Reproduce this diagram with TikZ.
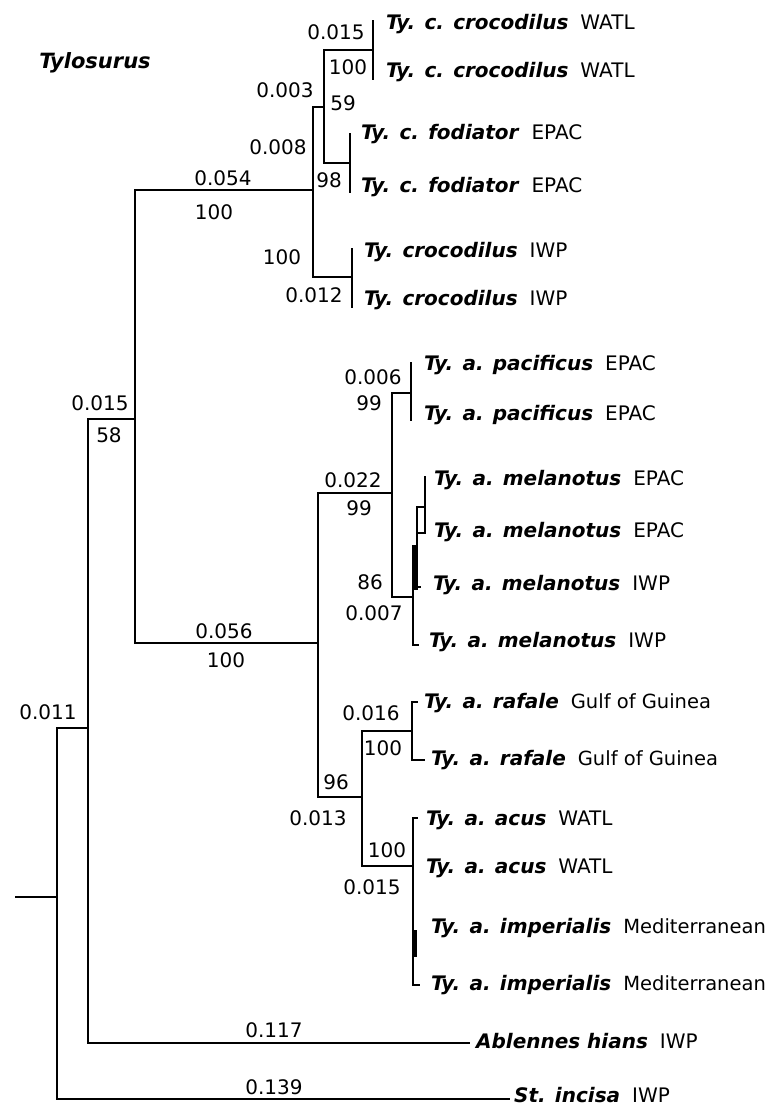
\documentclass[tikz,border=0pt]{standalone}
\usepackage{fontspec}
\setmainfont{DejaVu Sans}
\usepackage{tikz}

\newcommand{\taxon}[2]{\textbf{\textit{#1}}\hspace{0.6em}#2}
\newcommand{\reg}[1]{{\fontsize{19.5}{22}\selectfont #1}}

\begin{document}
\begin{tikzpicture}[x=1pt, y=-1pt, line width=2.2pt]
        \tikzstyle{every node}=[font=\fontsize{20}{24}\selectfont, inner sep=0pt]
        \tikzstyle{tip}=[anchor=base west]
        \useasboundingbox (0,0) rectangle (771,1110);
        % internal nodes
        \coordinate (r0) at (15,897);
        \coordinate (r) at (57,897);
        \coordinate (n1) at (88,728);
        \coordinate (ty) at (135,419);
        \coordinate (cr) at (313,190);
        \coordinate (cr1) at (324,107);
        \coordinate (cr11) at (373,50);
        \coordinate (cr12) at (350,163);
        \coordinate (cr2) at (352,277);
        \coordinate (ac) at (318,643);
        \coordinate (ac1) at (392,493);
        \coordinate (pa) at (411,393);
        \coordinate (me) at (413,597);
        \coordinate (ac2) at (362,797);
        \coordinate (ra) at (412,731);
        \coordinate (acu) at (413,866);
        % tips
        \coordinate (t1) at (373,20);
        \coordinate (t2) at (373,80);
        \coordinate (t3) at (350,133);
        \coordinate (t4) at (350,193);
        \coordinate (t5) at (352,248);
        \coordinate (t6) at (352,308);
        \coordinate (t7) at (411,362);
        \coordinate (t8) at (411,421);
        \coordinate (t9) at (425,476);
        \coordinate (mb1) at (417,507);
        \coordinate (mb2) at (425,533);
        \coordinate (m0) at (413,545);
        \coordinate (t11) at (421,587);
        \coordinate (t12) at (419,645);
        \coordinate (t13) at (418,702);
        \coordinate (t14) at (425,760);
        \coordinate (t15) at (418,818);
        \coordinate (t18) at (420,985);
        \coordinate (ab) at (470,1043);
        \coordinate (st) at (510,1099);
        % branches
        \draw (r0) -- (r);
        \draw (r) |- (n1); \draw (r) |- (st);
        \draw (n1) |- (ty); \draw (n1) |- (ab);
        \draw (ty) |- (cr); \draw (ty) |- (ac);
        \draw (cr) |- (cr1); \draw (cr) |- (cr2);
        \draw (cr1) |- (cr11); \draw (cr1) |- (cr12);
        \draw (cr11) |- (t1); \draw (cr11) |- (t2);
        \draw (cr12) |- (t3); \draw (cr12) |- (t4);
        \draw (cr2) |- (t5); \draw (cr2) |- (t6);
        \draw (ac) |- (ac1); \draw (ac) |- (ac2);
        \draw (ac1) |- (pa); \draw (ac1) |- (me);
        \draw (pa) |- (t7); \draw (pa) |- (t8);
        \draw (me) -- (m0); \draw (me) |- (t12);
        \fill (m0) rectangle ++(5,45);
        \draw[line width=1.4pt] (m0) ++(5,42) -- (t11);
        \draw[line width=1.2pt] (mb1) rectangle (mb2);
        \draw[line width=1.2pt] (mb1) ++(0,26) -- ++(0,12);
        \draw (t9) -- (t9 |- mb1);
        \draw (ac2) |- (ra); \draw (ac2) |- (acu);
        \draw (ra) |- (t13); \draw (ra) |- (t14);
        \draw (acu) |- (t15); \draw (acu) |- (t18);
        \fill (acu) ++(0,64) rectangle ++(4,27);
        % taxa
        \node [font=\fontsize{21}{24}\selectfont\bfseries\itshape] (gen) at (95,63) {Tylosurus};
        \node [tip] (l1) at (385,30) {\taxon{Ty. c. crocodilus}{WATL}};
        \node [tip] (l2) at (385,78) {\taxon{Ty. c. crocodilus}{WATL}};
        \node [tip] (l3) at (360,140) {\taxon{Ty. c. fodiator}{EPAC}};
        \node [tip] (l4) at (360,193) {\taxon{Ty. c. fodiator}{EPAC}};
        \node [tip] (l5) at (363,257) {\taxon{Ty. crocodilus}{IWP}};
        \node [tip] (l6) at (363,305) {\taxon{Ty. crocodilus}{IWP}};
        \node [tip] (l7) at (423,370) {\taxon{Ty. a. pacificus}{EPAC}};
        \node [tip] (l8) at (423,420) {\taxon{Ty. a. pacificus}{EPAC}};
        \node [tip] (l9) at (433,485) {\taxon{Ty. a. melanotus}{EPAC}};
        \node [tip] (l10) at (433,537) {\taxon{Ty. a. melanotus}{EPAC}};
        \node [tip] (l11) at (432,590) {\taxon{Ty. a. melanotus}{IWP}};
        \node [tip] (l12) at (428,647) {\taxon{Ty. a. melanotus}{IWP}};
        \node [tip] (l13) at (423,708) {\taxon{Ty. a. rafale}{\reg{Gulf of Guinea}}};
        \node [tip] (l14) at (430,765) {\taxon{Ty. a. rafale}{\reg{Gulf of Guinea}}};
        \node [tip] (l15) at (425,825) {\taxon{Ty. a. acus}{WATL}};
        \node [tip] (l16) at (425,873) {\taxon{Ty. a. acus}{WATL}};
        \node [tip] (l17) at (430,933) {\taxon{Ty. a. imperialis}{\reg{Mediterranean}}};
        \node [tip] (l18) at (430,990) {\taxon{Ty. a. imperialis}{\reg{Mediterranean}}};
        \node [tip] (l19) at (475,1048) {\taxon{Ablennes hians}{IWP}};
        \node [tip] (l20) at (513,1102) {\taxon{St. incisa}{IWP}};
        % branch lengths and bootstrap
        \node (b1) at (48,712) {0.011};
        \node (b2) at (274,1087) {0.139};
        \node (b3) at (274,1030) {0.117};
        \node (b4) at (100,403) {0.015};
        \node (b5) at (109,435) {58};
        \node (b6) at (223,178) {0.054};
        \node (b7) at (214,212) {100};
        \node (b8) at (224,631) {0.056};
        \node (b9) at (226,660) {100};
        \node (b10) at (285,90) {0.003};
        \node (b11) at (278,147) {0.008};
        \node (b12) at (343,103) {59};
        \node (b13) at (336,32) {0.015};
        \node (b14) at (348,67) {100};
        \node (b15) at (329,180) {98};
        \node (b16) at (282,257) {100};
        \node (b17) at (314,295) {0.012};
        \node (b18) at (373,377) {0.006};
        \node (b19) at (369,403) {99};
        \node (b20) at (353,480) {0.022};
        \node (b21) at (359,508) {99};
        \node (b22) at (370,582) {86};
        \node (b23) at (374,613) {0.007};
        \node (b24) at (371,713) {0.016};
        \node (b25) at (383,748) {100};
        \node (b26) at (336,782) {96};
        \node (b27) at (318,818) {0.013};
        \node (b28) at (387,850) {100};
        \node (b29) at (372,887) {0.015};
\end{tikzpicture}
\end{document}
